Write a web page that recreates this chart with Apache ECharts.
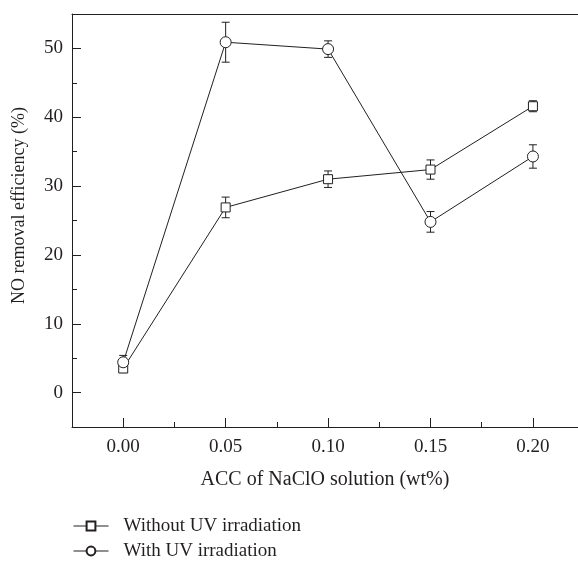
<!DOCTYPE html>
<html>
<head>
<meta charset="utf-8">
<script src="https://cdn.jsdelivr.net/npm/echarts@6/dist/echarts.min.js"></script>
<style>html,body{margin:0;padding:0;background:#fff}#c{width:578px;height:562px}</style>
</head>
<body>
<div id="c"></div>
<script>
// Data
const concentrations = [0.00, 0.05, 0.10, 0.15, 0.20];
const withoutUV = [3.5, 26.9, 31.0, 32.4, 41.6];
const withoutUVErr = [0.6, 1.5, 1.2, 1.4, 0.8];
const withUV = [4.4, 50.9, 49.9, 24.8, 34.3];
const withUVErr = [1.0, 2.9, 1.2, 1.5, 1.7];
const seriesNames = ['Without UV irradiation', 'With UV irradiation'];
const xTitle = 'ACC of NaClO solution (wt%)';
const yTitle = 'NO removal efficiency (%)';

const INK = '#231f20';
const FONT = 'Liberation Serif';

const pts = (vals) => concentrations.map((x, i) => [x, vals[i]]);
const errs = (vals, e) => concentrations.map((x, i) => [x, vals[i] - e[i], vals[i] + e[i]]);

function errorBar(params, api) {
  const x = api.value(0);
  const lo = api.coord([x, api.value(1)]);
  const hi = api.coord([x, api.value(2)]);
  const h = 4;
  const st = { stroke: INK, lineWidth: 1 };
  return {
    type: 'group',
    children: [
      { type: 'line', shape: { x1: lo[0], y1: lo[1], x2: hi[0], y2: hi[1] }, style: st },
      { type: 'line', shape: { x1: lo[0] - h, y1: lo[1], x2: lo[0] + h, y2: lo[1] }, style: st },
      { type: 'line', shape: { x1: hi[0] - h, y1: hi[1], x2: hi[0] + h, y2: hi[1] }, style: st }
    ]
  };
}

const xMin = -0.025, xMax = 0.222, yMin = -5, yMax = 55;
const label = { fontFamily: FONT, fontSize: 19, color: INK };

function legendFor(name, top) {
  return {
    orient: 'vertical', left: 73, top: top, padding: 0,
    itemWidth: 35, itemHeight: 11, itemGap: 0,
    data: [name],
    textStyle: { fontFamily: FONT, fontSize: 19, lineHeight: 20, color: INK, padding: [0, 0, 0, 10] },
    lineStyle: { width: 1 }
  };
}

const chart = echarts.init(document.getElementById('c'), null, { renderer: 'canvas' });
chart.setOption({
  animation: false,
  backgroundColor: '#fff',
  grid: { left: 72, right: 0, top: 14, bottom: 135 },
  xAxis: [
    {
      type: 'value', min: xMin, max: xMax, position: 'bottom',
      name: xTitle, nameLocation: 'middle', nameGap: 43,
      nameTextStyle: { fontFamily: FONT, fontSize: 20, color: INK },
      axisLine: { show: true, onZero: false, lineStyle: { color: INK, width: 1 } },
      axisTick: { show: true, inside: true, length: 9, lineStyle: { color: INK } },
      axisLabel: Object.assign({ margin: 11, showMinLabel: false, showMaxLabel: false,
        formatter: (v) => v.toFixed(2) }, label),
      splitLine: { show: false }
    },
    {
      type: 'value', min: xMin, max: xMax, interval: 0.05, position: 'bottom',
      axisLine: { show: false, onZero: false },
      axisTick: { show: true, inside: true, length: 5, lineStyle: { color: INK } },
      axisLabel: { show: false }, splitLine: { show: false }
    },
    {
      type: 'value', min: xMin, max: xMax, position: 'top',
      axisLine: { show: true, onZero: false, lineStyle: { color: INK, width: 1 } },
      axisTick: { show: false }, axisLabel: { show: false }, splitLine: { show: false }
    }
  ],
  yAxis: [
    {
      type: 'value', min: yMin, max: yMax, position: 'left',
      name: yTitle, nameLocation: 'middle', nameGap: 44,
      nameTextStyle: { fontFamily: FONT, fontSize: 18, color: INK, padding: [0, 0, 0, 30] },
      axisLine: { show: true, onZero: false, lineStyle: { color: INK, width: 1 } },
      axisTick: { show: true, inside: true, length: 9, lineStyle: { color: INK } },
      axisLabel: Object.assign({ margin: 9, showMinLabel: false, showMaxLabel: false }, label),
      splitLine: { show: false }
    },
    {
      type: 'value', min: yMin, max: yMax, interval: 10, position: 'left',
      axisLine: { show: false, onZero: false },
      axisTick: { show: true, inside: true, length: 5, lineStyle: { color: INK } },
      axisLabel: { show: false }, splitLine: { show: false }
    }
  ],
  legend: [legendFor(seriesNames[0], 516), legendFor(seriesNames[1], 541)],
  series: [
    {
      type: 'custom', name: 'errA', renderItem: errorBar, xAxisIndex: 0, yAxisIndex: 0,
      data: errs(withoutUV, withoutUVErr), z: 1, silent: true
    },
    {
      type: 'custom', name: 'errB', renderItem: errorBar, xAxisIndex: 0, yAxisIndex: 0,
      data: errs(withUV, withUVErr), z: 1, silent: true
    },
    {
      type: 'line', name: seriesNames[0], data: pts(withoutUV), z: 3,
      symbol: 'rect', symbolSize: 9,
      lineStyle: { color: INK, width: 1 },
      itemStyle: { color: '#fff', borderColor: INK, borderWidth: 1 }
    },
    {
      type: 'line', name: seriesNames[1], data: pts(withUV), z: 3,
      symbol: 'circle', symbolSize: 11,
      lineStyle: { color: INK, width: 1 },
      itemStyle: { color: '#fff', borderColor: INK, borderWidth: 1 }
    }
  ]
});
</script>
</body>
</html>
